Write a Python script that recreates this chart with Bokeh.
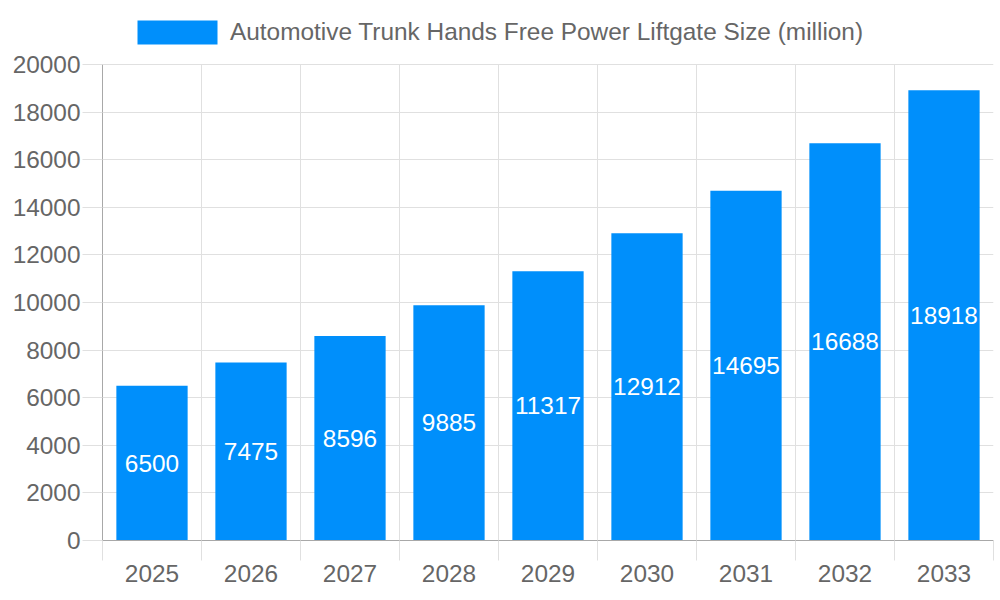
from bokeh.plotting import figure
from bokeh.models import (ColumnDataSource, Range1d, FixedTicker, Legend, LegendItem)
from bokeh.core.properties import value
from bokeh.embed import file_html
from bokeh.resources import INLINE

years = ["2025", "2026", "2027", "2028", "2029", "2030", "2031", "2032", "2033"]
sizes = [6500, 7475, 8596, 9885, 11317, 12912, 14695, 16688, 18918]
y_ticks = list(range(0, 20001, 2000))
series_name = "Automotive Trunk Hands Free Power Liftgate Size (million)"

FONT = "Liberation Sans"
FS = "24.4px"
TEXT = "#666666"
BAR = "#008FFB"
GRID = "#e0e0e0"
AXIS = "#a8a8a8"

Y_MAX = y_ticks[-1]
FRAME_TOP, PLOT_TOP, PLOT_BOTTOM = 8, 64, 540   # legend lives in the frame above Y_MAX
y_end = Y_MAX * (PLOT_BOTTOM - FRAME_TOP) / (PLOT_BOTTOM - PLOT_TOP)

xs = [i + 0.5 for i in range(len(years))]
bounds = list(range(len(years) + 1))
src = ColumnDataSource(dict(x=xs, top=sizes, mid=[v / 2 for v in sizes],
                            lab=[str(v) for v in sizes]))

p = figure(width=996, height=596, output_backend="svg", toolbar_location=None,
           x_range=Range1d(0, len(years)), y_range=Range1d(0, y_end),
           min_border_left=102, min_border_right=3, min_border_top=FRAME_TOP,
           min_border_bottom=596 - PLOT_BOTTOM)
p.outline_line_color = None

bars = p.vbar(x="x", top="top", width=0.72, source=src, fill_color=BAR, line_color=None)
p.text(x="x", y="mid", text="lab", source=src, text_align="center", text_baseline="middle",
       text_color="white", text_font=value(FONT), text_font_size=FS)

# x axis: labels at centres, ticks/grid at category boundaries
xa = p.xaxis[0]
xa.ticker = FixedTicker(ticks=xs, minor_ticks=bounds)
xa.major_label_overrides = {x: y for x, y in zip(xs, years)}
xa.major_tick_out = 0
xa.major_tick_in = 0
xa.minor_tick_out = 20
xa.minor_tick_in = 0
xa.minor_tick_line_color = GRID
xa.axis_line_color = AXIS
xa.major_label_standoff = 4
p.xgrid.ticker = FixedTicker(ticks=bounds)
p.xgrid.grid_line_color = GRID
try:
    p.xgrid.cross_bounds = (0, Y_MAX)
except Exception:
    p.xgrid.grid_line_color = None
    p.segment(x0=bounds, y0=[0] * len(bounds), x1=bounds, y1=[Y_MAX] * len(bounds),
              line_color=GRID, line_width=1)

ya = p.yaxis[0]
ya.ticker = FixedTicker(ticks=y_ticks, minor_ticks=[])
ya.bounds = (0, Y_MAX)
ya.major_tick_out = 20
ya.major_tick_in = 0
ya.major_tick_line_color = GRID
ya.minor_tick_line_color = None
ya.axis_line_color = AXIS
ya.major_label_standoff = 2
p.ygrid.ticker = FixedTicker(ticks=y_ticks)
p.ygrid.grid_line_color = GRID

for ax in (xa, ya):
    ax.major_label_text_font = FONT
    ax.major_label_text_font_size = FS
    ax.major_label_text_color = TEXT

legend = Legend(items=[LegendItem(label=series_name, renderers=[bars])],
                location=(25, PLOT_BOTTOM - 47), orientation="horizontal",
                glyph_width=100, glyph_height=30, label_standoff=3,
                label_text_font=FONT, label_text_font_size=FS, label_text_color=TEXT,
                padding=0, margin=0, spacing=0, border_line_color=None,
                background_fill_alpha=0)
p.add_layout(legend, "center")

open("out.html", "w").write(file_html(p, INLINE))
